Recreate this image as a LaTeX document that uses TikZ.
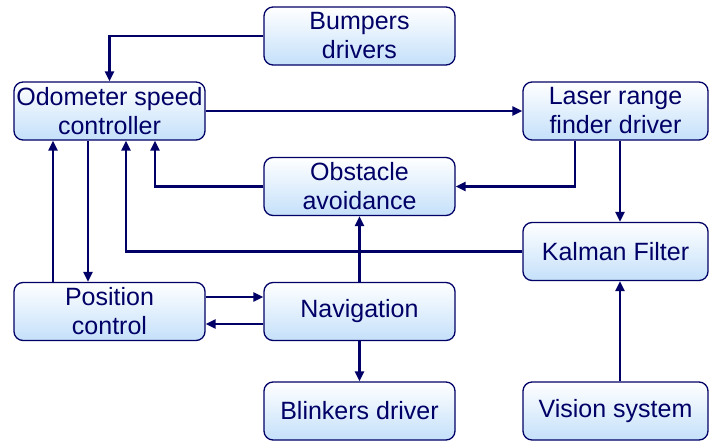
\documentclass[tikz,border=0pt]{standalone}
\usepackage{fontspec}
\setmainfont{Liberation Sans}
\usetikzlibrary{arrows.meta}

\definecolor{navy}{RGB}{0,0,102}
\definecolor{boxblue}{RGB}{196,224,250}

\begin{document}
\begin{tikzpicture}[x=1pt, y=-1pt,
	block/.style={draw=navy, line width=1.3pt, rounded corners=9pt,
		top color=white, bottom color=boxblue, text=navy,
		minimum width=191pt, minimum height=58pt, inner sep=0pt,
		align=center, font=\fontsize{25}{29}\selectfont},
	flow/.style={draw=navy, line width=2.4pt, -{Triangle[length=10pt,width=9pt]}},
	link/.style={draw=navy, line width=2.4pt}]

	\useasboundingbox (0,0) rectangle (709,442);

	\node [block] (bumpers) at (359.5,36) {Bumpers\\drivers};
	\node [block] (odometer) at (109.5,111) {Odometer speed\\controller};
	\node [block, minimum width=185pt] (laser) at (615.5,111) {Laser range\\finder driver};
	\node [block] (obstacle) at (359.5,186.5) {Obstacle\\avoidance};
	\node [block, minimum width=185pt] (kalman) at (615.5,251.5) {Kalman Filter};
	\node [block] (position) at (109.5,311.5) {Position\\control};
	\node [block] (navigation) at (359.5,311.5) {Navigation};
	\node [block] (blinkers) at (359.5,411) {Blinkers driver};
	\node [block, minimum width=185pt] (vision) at (615.5,411) {Vision system};

	\draw [flow] (bumpers.west) -| (odometer.north);
	\draw [flow] (odometer.east) -- (laser.west);
	\draw [flow] ([xshift=-40.5pt]laser.south) |- (obstacle.east);
	\draw [flow] ([xshift=4.5pt]laser.south) -- ([xshift=4.5pt]kalman.north);
	\draw [flow] (obstacle.west) -| ([xshift=45.5pt]odometer.south);
	\draw [flow] (kalman.west) -| ([xshift=16.5pt]odometer.south);
	\draw [flow] ([xshift=-56.5pt]position.north) -- ([xshift=-56.5pt]odometer.south);
	\draw [flow] ([xshift=-21.5pt]odometer.south) -- ([xshift=-21.5pt]position.north);
	\draw [flow] ([yshift=14.5pt]position.east) -- ([yshift=14.5pt]navigation.west);
	\draw [flow] ([yshift=-12.5pt]navigation.west) -- ([yshift=-12.5pt]position.east);
	\draw [flow] (navigation.north) -- (obstacle.south);
	\draw [flow] (navigation.south) -- (blinkers.north);
	\draw [flow] ([xshift=4.5pt]vision.north) -- ([xshift=4.5pt]kalman.south);

\end{tikzpicture}
\end{document}
